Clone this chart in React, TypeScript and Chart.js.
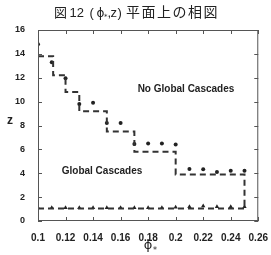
import React, { useEffect, useRef } from "react";
import { Chart, registerables } from "chart.js";

Chart.register(...registerables);

const titleParts = ["図", "12", "(", "ϕ", "*", ",", "z", ")", "平面上の相図"];
const phiValues = [0.1, 0.11, 0.12, 0.13, 0.14, 0.15, 0.16, 0.17, 0.18, 0.19, 0.2, 0.21, 0.22, 0.23, 0.24, 0.25];
const upperZ = [14.8, 13.3, 11.95, 9.8, 9.9, 8.2, 8.2, 6.45, 6.5, 6.5, 6.4, 4.35, 4.33, 4.1, 4.2, 4.2];
const lowerZ = [1.1, 1.1, 1.1, 1.1, 1.1, 1.1, 1.1, 1.1, 1.1, 1.12, 1.15, 1.2, 1.25, 1.2, 1.2, 1.2];
const stairPhi = [0.1, 0.111, 0.111, 0.12, 0.12, 0.13, 0.13, 0.15, 0.15, 0.17, 0.17, 0.2, 0.2, 0.25, 0.25];
const stairZ = [13.8, 13.8, 12.2, 12.2, 10.8, 10.8, 9.2, 9.2, 7.5, 7.5, 5.8, 5.8, 3.9, 3.9, 1.05];
const lowerLinePhi = [0.1, 0.25];
const lowerLineZ = [1.05, 1.05];
const regionLabels = ["No Global Cascades", "Global Cascades"];
const regionPhi = [0.2075, 0.1465];
const regionZ = [11.0, 4.2];

const toPts = (xs: number[], ys: number[]) => xs.map((x, i) => ({ x, y: ys[i] }));

const framePlugin = {
  id: "frameDecor",
  afterDraw(chart: any) {
    const { ctx, chartArea, scales } = chart;
    const { left, right, top, bottom } = chartArea;
    ctx.save();
    ctx.strokeStyle = "#555";
    ctx.lineWidth = 1;
    ctx.strokeRect(left + 0.5, top + 0.5, right - left - 1, bottom - top - 1);
    const tl = 4;
    ctx.beginPath();
    scales.x.ticks.forEach((t: any) => {
      const px = Math.round(scales.x.getPixelForValue(t.value)) + 0.5;
      ctx.moveTo(px, bottom);
      ctx.lineTo(px, bottom - tl);
      ctx.moveTo(px, top);
      ctx.lineTo(px, top + tl);
    });
    scales.y.ticks.forEach((t: any) => {
      const py = Math.round(scales.y.getPixelForValue(t.value)) + 0.5;
      ctx.moveTo(left, py);
      ctx.lineTo(left + tl, py);
      ctx.moveTo(right, py);
      ctx.lineTo(right - tl, py);
    });
    ctx.stroke();

    // region labels
    ctx.fillStyle = "#222";
    ctx.font = "bold 10px 'Liberation Sans', Arial, sans-serif";
    ctx.textAlign = "center";
    ctx.textBaseline = "middle";
    regionLabels.forEach((s, i) => {
      ctx.fillText(s, scales.x.getPixelForValue(regionPhi[i]), scales.y.getPixelForValue(regionZ[i]));
    });

    // title, drawn piece by piece
    ctx.textAlign = "left";
    ctx.textBaseline = "alphabetic";
    const cjk = "13px 'Noto Sans CJK JP', sans-serif";
    const lat = "13px 'Liberation Sans', Arial, sans-serif";
    const base = 17;
    ctx.font = cjk;
    ctx.fillText(titleParts[0], 54, base);
    ctx.font = lat;
    ctx.fillText(titleParts[1], 69.5, base);
    ctx.fillText(titleParts[2], 89.5, base);
    ctx.font = "12px 'DejaVu Sans', sans-serif";
    ctx.fillText(titleParts[3], 96.5, base);
    ctx.font = "7px 'DejaVu Sans', sans-serif";
    ctx.fillText(titleParts[4], 104, base + 2);
    ctx.font = lat;
    ctx.fillText(titleParts[5], 107.5, base);
    ctx.fillText(titleParts[6], 110.5, base);
    ctx.fillText(titleParts[7], 117.5, base);
    ctx.font = "14px 'Noto Sans CJK JP', sans-serif";
    (ctx as any).letterSpacing = "1.5px";
    ctx.fillText(titleParts[8], 126, base);
    (ctx as any).letterSpacing = "0px";

    // axis titles
    ctx.textAlign = "center";
    ctx.textBaseline = "middle";
    ctx.font = "bold 12px 'Liberation Sans', Arial, sans-serif";
    ctx.fillText("z", 10, 121);
    ctx.font = "13px 'DejaVu Sans', sans-serif";
    ctx.fillText("ϕ", 148, 246);
    ctx.font = "8px 'DejaVu Sans', sans-serif";
    ctx.fillText("*", 155, 251);
    ctx.restore();
  },
};

export default function App() {
  const ref = useRef<HTMLCanvasElement>(null);
  useEffect(() => {
    if (!ref.current) return;
    const dash = [6, 4];
    const chart = new Chart(ref.current, {
      type: "scatter",
      data: {
        datasets: [
          {
            data: toPts(stairPhi, stairZ),
            showLine: true,
            borderColor: "#333",
            borderWidth: 2,
            borderDash: dash,
            pointRadius: 0,
            tension: 0,
          },
          {
            data: toPts(lowerLinePhi, lowerLineZ),
            showLine: true,
            borderColor: "#333",
            borderWidth: 2,
            borderDash: dash,
            pointRadius: 0,
          },
          {
            data: toPts(phiValues, upperZ),
            showLine: false,
            pointRadius: 2,
            pointStyle: "circle",
            backgroundColor: "#222",
            borderColor: "#222",
            borderWidth: 0,
          },
          {
            data: toPts(phiValues, lowerZ),
            showLine: false,
            pointRadius: 2.5,
            pointStyle: "triangle",
            backgroundColor: "#222",
            borderColor: "#222",
            borderWidth: 0,
          },
        ],
      },
      options: {
        responsive: false,
        animation: false,
        layout: { padding: { top: 30, right: 8, left: 0, bottom: 0 } },
        plugins: { legend: { display: false }, tooltip: { enabled: false }, title: { display: false } },
        scales: {
          x: {
            type: "linear",
            min: 0.1,
            max: 0.26,
            afterFit: (s: any) => {
              s.height = 34;
            },
            grid: { display: false },
            border: { display: false },
            ticks: {
              stepSize: 0.02,
              padding: 3,
              color: "#222",
              font: { family: "'Liberation Sans', Arial, sans-serif", size: 10, weight: "bold" },
              callback: (v: any) => Number(Number(v).toFixed(2)).toString(),
              maxRotation: 0,
            },
          },
          y: {
            type: "linear",
            min: 0,
            max: 16,
            afterFit: (s: any) => {
              s.width = 38;
            },
            grid: { display: false },
            border: { display: false },
            ticks: {
              stepSize: 2,
              padding: 5,
              color: "#222",
              font: { family: "'Liberation Sans', Arial, sans-serif", size: 9, weight: "bold" },
            },
          },
        },
      },
      plugins: [framePlugin],
    } as any);
    return () => chart.destroy();
  }, []);
  return (
    <div style={{ position: "absolute", left: 0, top: 0, width: 271, height: 255, background: "#fff" }}>
      <canvas ref={ref} width={271} height={255} />
    </div>
  );
}
